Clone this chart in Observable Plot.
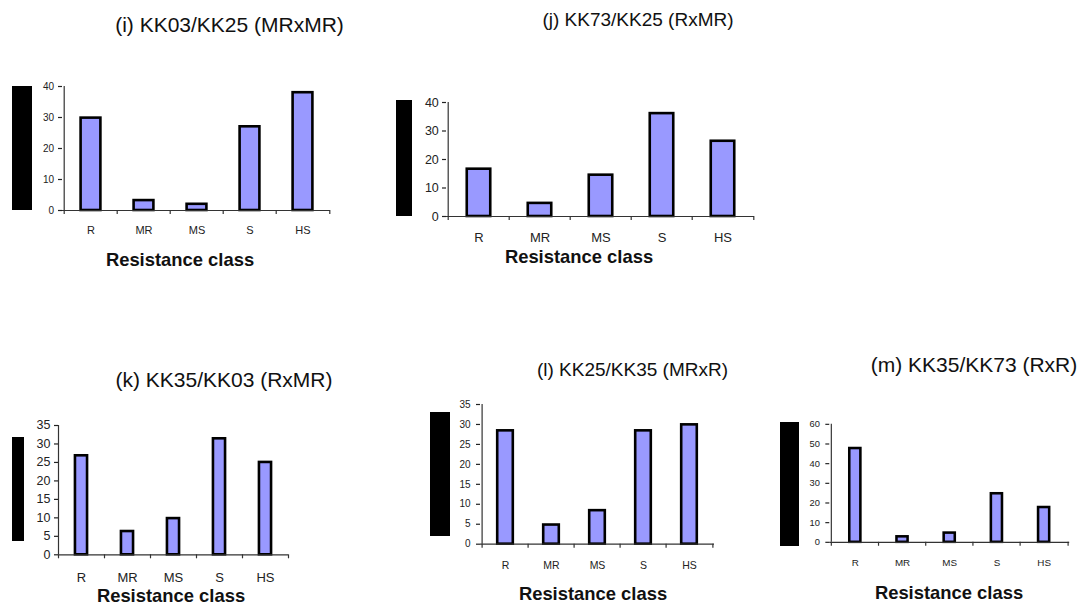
<!DOCTYPE html>
<html><head><meta charset="utf-8">
<script src="https://cdn.jsdelivr.net/npm/d3@7"></script>
<script src="https://cdn.jsdelivr.net/npm/@observablehq/plot@0.6"></script>
<style>
html,body{margin:0;padding:0;background:#fff;}
#fig{position:relative;width:1081px;height:605px;overflow:hidden;font-family:"Liberation Sans",Arial,sans-serif;background:#fff;}
.panel{position:absolute;}
#overlay{position:absolute;left:0;top:0;}
</style></head><body><div id="fig"></div>
<script>
// ---- data ----
const classes = ["R", "MR", "MS", "S", "HS"];
const titles = [
  "(i) KK03/KK25 (MRxMR)",
  "(j) KK73/KK25 (RxMR)",
  "(k) KK35/KK03 (RxMR)",
  "(l) KK25/KK35 (MRxR)",
  "(m) KK35/KK73 (RxR)"
];
const valuesI = [29.8, 3.2, 2.0, 27.0, 38.0];
const valuesJ = [16.6, 4.6, 14.5, 36.1, 26.4];
const valuesK = [26.8, 6.3, 9.8, 31.4, 25.0];
const valuesL = [28.4, 4.8, 8.4, 28.4, 29.9];
const valuesM = [47.7, 2.8, 4.7, 24.7, 17.7];
const yMax = [40, 40, 35, 35, 60];
const yStep = [10, 10, 5, 5, 10];
const axisTitle = "Resistance class";
const seriesValues = [valuesI, valuesJ, valuesK, valuesL, valuesM];

// ---- layout (pixels) ----
const layout = [
  {x0:62,  x1:330,  yt:86,    yb:210,   barW:23,   yFont:10,   yPad:4.5, xFont:11,   xPad:16,   tx:229.5, ty:32,    tFont:21,   ax:180, ay:266, blk:[12,86,20,124]},
  {x0:446, x1:754,  yt:102,   yb:216,   barW:26.7, yFont:12.5, yPad:3.7, xFont:13,   xPad:16.7, tx:638,   ty:26,    tFont:19,   ax:579, ay:263, blk:[396,100,16,116]},
  {x0:58,  x1:288,  yt:425,   yb:554.3, barW:14.7, yFont:12.5, yPad:4,   xFont:13,   xPad:18,   tx:224,   ty:386.7, tFont:21,   ax:171, ay:602, blk:[12,437,12,104]},
  {x0:480, x1:714,  yt:404.3, yb:544,   barW:19,   yFont:10,   yPad:6,   xFont:10.5, xPad:17,   tx:632.5, ty:376,   tFont:19,   ax:593, ay:600, blk:[430,412,20,124]},
  {x0:830, x1:1074, yt:424,   yb:544,   barW:14.7, yFont:9.5,  yPad:6,   xFont:10,   xPad:17,   tx:974,   ty:372,   tFont:21,   ax:949, ay:599, blk:[780,422,19,124]}
];

const fig = document.getElementById("fig");
const mL = 45, mR = 12, mT = 10, mB = 45;

layout.forEach((L, k) => {
  const data = classes.map((c, i) => ({cls: c, v: seriesValues[k][i]}));
  const fw = L.x1 - L.x0, fh = L.yb - L.yt;
  const bw = fw / classes.length;
  const inset = (bw - L.barW) / 2 + 1.3;
  const last = classes[classes.length - 1];
  const chart = Plot.plot({
    width: fw + mL + mR,
    height: fh + mT + mB,
    marginLeft: mL, marginRight: mR, marginTop: mT, marginBottom: mB,
    x: {domain: classes, padding: 0, axis: null},
    y: {domain: [0, yMax[k]], axis: null},
    style: {fontFamily: "'Liberation Sans', Arial, sans-serif", background: "transparent", overflow: "visible"},
    marks: [
      Plot.barY(data, {x: "cls", y: "v", fill: "#9999ff", stroke: "#000", strokeWidth: 2.6, insetLeft: inset, insetRight: inset}),
      Plot.ruleY([0], {stroke: "#333", strokeWidth: 1.2}),
      Plot.ruleX([classes[0]], {dx: -bw / 2, stroke: "#333", strokeWidth: 1.2}),
      Plot.ruleX(classes, {dx: -bw / 2, insetTop: fh, insetBottom: -4, stroke: "#333", strokeWidth: 1.2}),
      Plot.ruleX([last], {dx: bw / 2, insetTop: fh, insetBottom: -4, stroke: "#333", strokeWidth: 1.2}),
      Plot.axisY({ticks: d3.range(0, yMax[k] + yStep[k] / 2, yStep[k]), tickSize: 4, tickPadding: L.yPad, fontSize: L.yFont, color: "#222", label: null, strokeWidth: 1.2}),
      Plot.axisX({tickSize: 0, tickPadding: L.xPad, fontSize: L.xFont, color: "#222", label: null})
    ]
  });
  const wrap = document.createElement("div");
  wrap.className = "panel";
  wrap.style.left = (L.x0 - mL) + "px";
  wrap.style.top = (L.yt - mT) + "px";
  wrap.appendChild(chart);
  fig.appendChild(wrap);
});

// overlay: titles, axis titles, redaction blocks
const svg = d3.select(fig).append("svg")
  .attr("id", "overlay").attr("width", 1081).attr("height", 605)
  .style("font-family", "'Liberation Sans', Arial, sans-serif");
layout.forEach((L, k) => {
  svg.append("rect").attr("x", L.blk[0]).attr("y", L.blk[1]).attr("width", L.blk[2]).attr("height", L.blk[3]).attr("fill", "#000");
  svg.append("text").attr("x", L.tx).attr("y", L.ty).attr("text-anchor", "middle")
    .attr("font-size", L.tFont).attr("fill", "#111").text(titles[k]);
  svg.append("text").attr("x", L.ax).attr("y", L.ay).attr("text-anchor", "middle")
    .attr("font-size", 18.4).attr("font-weight", "bold").attr("fill", "#111").text(axisTitle);
});
</script>
</body></html>
